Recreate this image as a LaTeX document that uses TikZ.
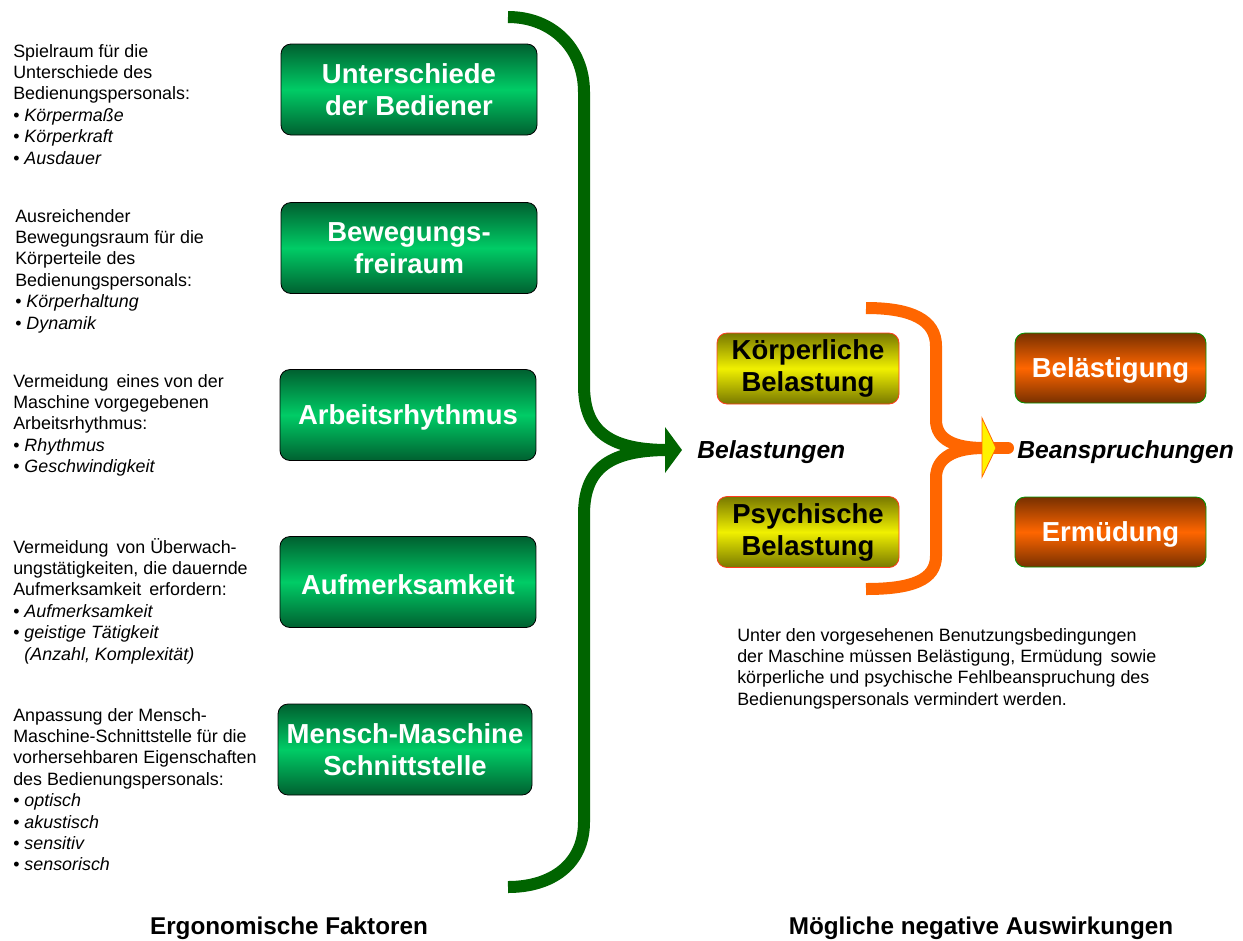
\documentclass[tikz,border=0pt]{standalone}
\usepackage{fontspec}
\setmainfont{Liberation Sans}
\definecolor{gdark}{RGB}{0,96,48}
\definecolor{glight}{RGB}{0,204,102}
\definecolor{ydark}{RGB}{120,120,0}
\definecolor{ylight}{RGB}{240,240,0}
\definecolor{odark}{RGB}{120,48,0}
\definecolor{olight}{RGB}{255,102,0}
\definecolor{bracegreen}{RGB}{0,100,0}
\definecolor{braceorange}{RGB}{255,102,0}
\definecolor{yborder}{RGB}{255,60,30}
\definecolor{oborder}{RGB}{0,150,0}
\begin{document}
\begin{tikzpicture}[x=0.75pt,y=-0.75pt,
  boxbase/.style={rounded corners=7.5pt, align=center, inner sep=0pt,
    font=\bfseries\fontsize{20.6}{24}\selectfont,
    execute at begin node={\rule{0pt}{19pt}}},
  gbox/.style={boxbase, draw=black, line width=0.6pt, top color=gdark, bottom color=gdark,
    middle color=glight, text=white, minimum width=192pt, minimum height=68.25pt},
  ybox/.style={boxbase, draw=yborder, line width=0.6pt, top color=ydark, bottom color=ydark,
    middle color=ylight, text=black, minimum width=136.5pt, minimum height=53.25pt},
  obox/.style={boxbase, draw=oborder, line width=0.6pt, top color=odark, bottom color=odark,
    middle color=olight, text=white, minimum width=143.25pt, minimum height=52.5pt},
  txtblock/.style={anchor=base west, inner sep=0pt, font=\fontsize{13.4}{16.05}\selectfont},
  biglabel/.style={inner sep=0pt, font=\bfseries\itshape\fontsize{18.5}{22}\selectfont},
  bottomlabel/.style={anchor=base, inner sep=0pt, font=\bfseries\fontsize{18.2}{22}\selectfont},
  gbrace/.style={draw=bracegreen, line width=9pt},
  obrace/.style={draw=braceorange, line width=9pt}
]
\useasboundingbox (0,0) rectangle (1243,940);

% left text blocks
\node[txtblock] (t1) at (13,57) {\parbox[t]{200pt}{\raggedright
Spielraum für die\\Unterschiede des\\Bedienungspersonals:\\• \textit{Körpermaße}\\• \textit{Körperkraft}\\• \textit{Ausdauer}}};
\node[txtblock] (t2) at (15,222) {\parbox[t]{200pt}{\raggedright
Ausreichender\\Bewegungsraum für die\\Körperteile des\\Bedienungspersonals:\\• \textit{Körperhaltung}\\• \textit{Dynamik}}};
\node[txtblock] (t3) at (13,387) {\parbox[t]{200pt}{\raggedright
Vermeidung\, eines von der\\Maschine vorgegebenen\\Arbeitsrhythmus:\\• \textit{Rhythmus}\\• \textit{Geschwindigkeit}}};
\node[txtblock] (t4) at (13,553) {\parbox[t]{200pt}{\raggedright
Vermeidung\, von Überwach-\\ungstätigkeiten, die dauernde\\Aufmerksamkeit\, erfordern:\\• \textit{Aufmerksamkeit}\\• \textit{geistige Tätigkeit}\\\phantom{• }\textit{(Anzahl, Komplexität)}}};
\node[txtblock] (t5) at (13,721) {\parbox[t]{200pt}{\raggedright
Anpassung der Mensch-\\Maschine-Schnittstelle für die\\vorhersehbaren Eigenschaften\\des Bedienungspersonals:\\• \textit{optisch}\\• \textit{akustisch}\\• \textit{sensitiv}\\• \textit{sensorisch}}};

% green boxes
\node[gbox] (g1) at (409,89.5) {Unterschiede\\der Bediener};
\node[gbox] (g2) at (409,248) {Bewegungs-\\freiraum};
\node[gbox] (g3) at (408,415) {Arbeitsrhythmus};
\node[gbox] (g4) at (408,582) {Aufmerksamkeit};
\node[gbox,minimum width=190.5pt] (g5) at (405,749.5) {Mensch-Maschine\\Schnittstelle};

% green brace
\coordinate (gtop) at (508,17);
\coordinate (gbot) at (508,887);
\coordinate (gmid) at (668,450);
\draw[gbrace] (gtop) .. controls (552,17) and (584,48) .. (584,92) -- (584,385)
  .. controls (584,428) and (605,450) .. (gmid);
\draw[gbrace] (gmid) .. controls (605,450) and (584,472) .. (584,515) -- (584,822)
  .. controls (584,864) and (552,887) .. (gbot);
\fill[bracegreen] (665,427) -- (682,450) -- (665,473) -- cycle;

% labels middle
\node[biglabel, anchor=base west] (bel) at (697,458) {Belastungen};

% yellow boxes
\node[ybox] (y1) at (808,368.5) {Körperliche\\Belastung};
\node[ybox] (y2) at (808,532) {Psychische\\Belastung};

% orange brace
\coordinate (otop) at (866,308);
\coordinate (obot) at (866,589);
\coordinate (omid) at (984,448);
\coordinate (oend) at (1008,448);
\draw[obrace] (otop) .. controls (912,308) and (936,320) .. (936,346) -- (936,420)
  .. controls (936,440) and (955,448) .. (omid);
\draw[obrace] (omid) .. controls (955,448) and (936,457) .. (936,478) -- (936,556)
  .. controls (936,580) and (912,589) .. (obot);
\draw[obrace, line cap=round] (omid) -- (oend);
\filldraw[fill=yellow, draw=braceorange, line width=0.6pt] (982,418) -- (996,448) -- (982,477) -- cycle;

\node[biglabel, anchor=base west] (bean) at (1017,458) {Beanspruchungen};

% orange boxes
\node[obox] (o1) at (1110.5,368) {Belästigung};
\node[obox] (o2) at (1110.5,532) {Ermüdung};

% right text
\node[txtblock] (rt) at (737,641) {\parbox[t]{330pt}{\raggedright
Unter den vorgesehenen Benutzungsbedingungen\\der Maschine müssen Belästigung, Ermüdung\, sowie\\körperliche und psychische Fehlbeanspruchung des\\Bedienungspersonals vermindert werden.}};

% bottom labels
\node[bottomlabel] (lab1) at (289,934) {Ergonomische Faktoren};
\node[bottomlabel] (lab2) at (981,934) {Mögliche negative Auswirkungen};
\end{tikzpicture}
\end{document}
